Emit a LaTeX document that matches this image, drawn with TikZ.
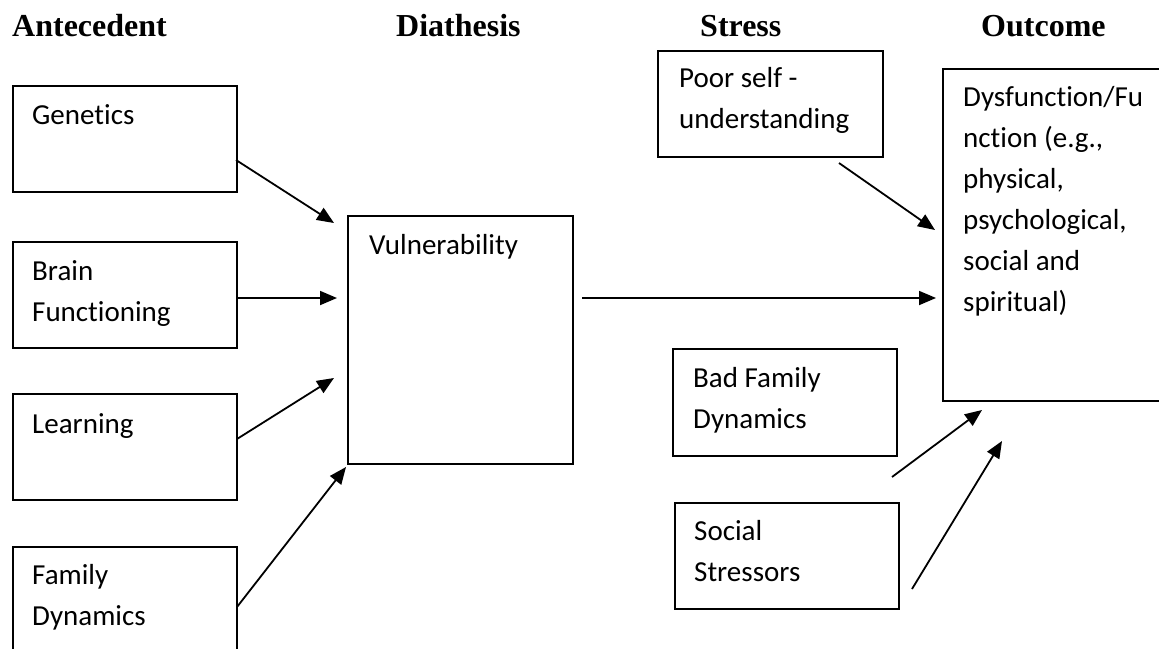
\documentclass[tikz,border=0pt]{standalone}
\usepackage{fontspec}
\setmainfont[Ligatures=NoCommon]{Carlito}
\newfontfamily\titlefont{Liberation Serif}
\usetikzlibrary{arrows.meta,calc}
\tikzset{
  box/.style={draw, line width=1.7pt, inner sep=0pt, anchor=north west},
  txt/.style={anchor=base west, inner sep=0pt, align=flush left, text width=215pt,
    font=\fontsize{29}{41}\selectfont},
  ttl/.style={anchor=base west, inner sep=0pt, font=\titlefont\bfseries\fontsize{32}{36}\selectfont},
  arr/.style={line width=1.8pt, -{Triangle[length=17pt,width=14pt]}}
}
\begin{document}
\begin{tikzpicture}[x=1pt,y=-1pt]
\useasboundingbox (0,0) rectangle (1159,648);
% titles
\node[ttl] (tA) at (12,36) {Antecedent};
\node[ttl] (tD) at (396,36) {Diathesis};
\node[ttl] (tS) at (700,36) {Stress};
\node[ttl] (tO) at (981,36) {Outcome};
% antecedent boxes
\node[box, minimum width=224pt, minimum height=106pt] (gen) at (12,85) {};
\node[txt] (gent) at ($(gen.north west)+(20,39)$) {Genetics};
\node[box, minimum width=224pt, minimum height=106pt] (brain) at (12,241) {};
\node[txt] (braint) at ($(brain.north west)+(20,39)$) {Brain\\Functioning};
\node[box, minimum width=224pt, minimum height=106pt] (learn) at (12,393) {};
\node[txt] (learnt) at ($(learn.north west)+(20,40)$) {Learning};
\node[box, minimum width=224pt, minimum height=115pt] (fam) at (12,546) {};
\node[txt] (famt) at ($(fam.north west)+(20,38)$) {Family\\Dynamics};
% diathesis
\node[box, minimum width=225pt, minimum height=248pt] (vul) at (347,215) {};
\node[txt] (vult) at ($(vul.north west)+(22,39)$) {Vulnerability};
% stress
\node[box, minimum width=225pt, minimum height=106pt] (poor) at (657,50) {};
\node[txt] (poort) at ($(poor.north west)+(22,37)$) {Poor self -\\understanding};
\node[box, minimum width=224pt, minimum height=107pt] (bad) at (672,348) {};
\node[txt] (badt) at ($(bad.north west)+(21,39)$) {Bad Family\\Dynamics};
\node[box, minimum width=224pt, minimum height=106pt] (soc) at (674,502) {};
\node[txt] (soct) at ($(soc.north west)+(20,38)$) {Social\\Stressors};
% outcome
\node[box, minimum width=225pt, minimum height=332pt] (out) at (942,68) {};
\node[txt] (outt) at ($(out.north west)+(21,38)$) {Dysfunction/Fu\\nction (e.g.,\\physical,\\psychological,\\social and\\spiritual)};
% connector end points
\coordinate (g0) at (236,160);  \coordinate (g1) at (334,223);
\coordinate (b0) at (236,298);  \coordinate (b1) at (337,298);
\coordinate (l0) at (237,439);  \coordinate (l1) at (334,378);
\coordinate (f0) at (237,607);  \coordinate (f1) at (346,467);
\coordinate (v0) at (582,298);  \coordinate (v1) at (936,298);
\coordinate (p0) at (839,163);  \coordinate (p1) at (935,230);
\coordinate (d0) at (892,477);  \coordinate (d1) at (982,410);
\coordinate (s0) at (912,589);  \coordinate (s1) at (1002,441);
\draw[arr] (g0) -- (g1);
\draw[arr] (b0) -- (b1);
\draw[arr] (l0) -- (l1);
\draw[arr] (f0) -- (f1);
\draw[arr] (v0) -- (v1);
\draw[arr] (p0) -- (p1);
\draw[arr] (d0) -- (d1);
\draw[arr] (s0) -- (s1);
\end{tikzpicture}
\end{document}
